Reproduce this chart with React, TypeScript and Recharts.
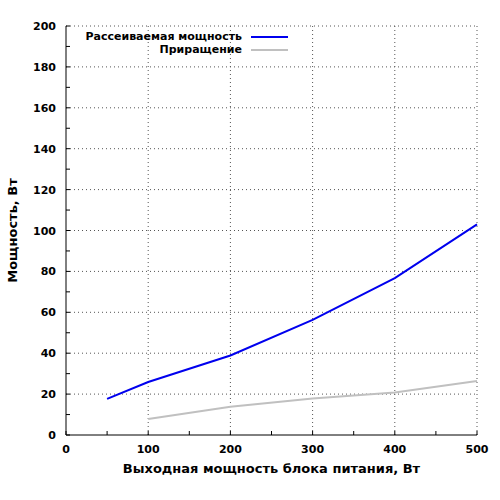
import React from 'react';
import { LineChart, Line, XAxis, YAxis, ReferenceLine, Legend } from 'recharts';

const outputPower = [50, 100, 200, 300, 400, 500];
const dissipated = [17.7, 25.9, 38.9, 56.3, 76.7, 103];
const increment = [null, 7.8, 13.8, 17.8, 20.8, 26.4];

const xTicks = [0, 50, 100, 150, 200, 250, 300, 350, 400, 450, 500];
const yTicks = [0, 10, 20, 30, 40, 50, 60, 70, 80, 90, 100, 110, 120, 130, 140, 150, 160, 170, 180, 190, 200];
const xGrid = [100, 200, 300, 400, 500];
const yGrid = [20, 40, 60, 80, 100, 120, 140, 160, 180, 200];

const data = outputPower.map((x, i) => ({ x, power: dissipated[i], inc: increment[i] }));

const font = '"DejaVu Sans", Verdana, sans-serif';

const XTick = ({ x, y, payload }: any) => (
  <g>
    <line x1={x} y1={y} x2={x} y2={y - 4} stroke="#000" />
    {payload.value % 100 === 0 && (
      <text x={x} y={y + 18} textAnchor="middle" fontSize={11} fontWeight="bold" fontFamily={font} fill="#000">
        {payload.value}
      </text>
    )}
  </g>
);

const YTick = ({ x, y, payload }: any) => (
  <g>
    <line x1={x} y1={y} x2={x + 4} y2={y} stroke="#000" />
    {payload.value % 20 === 0 && (
      <text x={x - 10} y={y + 4} textAnchor="end" fontSize={11} fontWeight="bold" fontFamily={font} fill="#000">
        {payload.value}
      </text>
    )}
  </g>
);

const legendItems = [
  { name: 'Рассеиваемая мощность', color: '#0000ee' },
  { name: 'Приращение', color: '#c0c0c0' },
];

const LegendBox = () => (
  <div style={{ fontFamily: font, fontSize: 11, fontWeight: 'bold' }}>
    {legendItems.map((it) => (
      <div key={it.name} style={{ display: 'flex', alignItems: 'center', justifyContent: 'flex-end', height: 13 }}>
        <span>{it.name}</span>
        <svg width={46} height={13}>
          <line x1={9} y1={7} x2={46} y2={7} stroke={it.color} strokeWidth={2} />
        </svg>
      </div>
    ))}
  </div>
);

export default function App() {
  return (
    <div style={{ position: 'absolute', left: 0, top: 0, width: 500, height: 500, background: '#fff' }}>
      <LineChart width={500} height={500} data={data} margin={{ top: 26, right: 23, bottom: 25, left: 6 }}>
        {xGrid.map((v) => (
          <ReferenceLine key={'x' + v} x={v} stroke="#555" strokeDasharray="1 3" />
        ))}
        {yGrid.map((v) => (
          <ReferenceLine key={'y' + v} y={v} stroke="#555" strokeDasharray="1 3" />
        ))}
        <XAxis
          type="number"
          dataKey="x"
          domain={[0, 500]}
          ticks={xTicks}
          height={40}
          tickSize={0}
          tickMargin={0}
          tickLine={false}
          axisLine={{ stroke: '#000' }}
          tick={<XTick />}
          interval={0}
          label={{
            content: ({ viewBox }: any) => (
              <text
                x={viewBox.x + viewBox.width / 2}
                y={viewBox.y + 38}
                textAnchor="middle"
                fontSize={13}
                fontWeight="bold"
                fontFamily={font}
                fill="#000"
              >
                Выходная мощность блока питания, Вт
              </text>
            ),
          }}
        />
        <YAxis
          type="number"
          domain={[0, 200]}
          ticks={yTicks}
          width={60}
          tickSize={0}
          tickMargin={0}
          tickLine={false}
          axisLine={{ stroke: '#000' }}
          tick={<YTick />}
          interval={0}
          label={{
            content: ({ viewBox }: any) => {
              const cx = 17;
              const cy = viewBox.y + viewBox.height / 2;
              return (
                <text
                  x={cx}
                  y={cy}
                  transform={`rotate(-90, ${cx}, ${cy})`}
                  textAnchor="middle"
                  fontSize={13}
                  fontWeight="bold"
                  fontFamily={font}
                  fill="#000"
                >
                  Мощность, Вт
                </text>
              );
            },
          }}
        />
        <Legend
          content={<LegendBox />}
          layout="vertical"
          verticalAlign="middle"
          align="center"
          wrapperStyle={{ position: 'absolute', top: 30, left: 60, width: 228 }}
        />
        <Line type="linear" dataKey="power" stroke="#0000ee" strokeWidth={2} dot={false} isAnimationActive={false} />
        <Line type="linear" dataKey="inc" stroke="#c0c0c0" strokeWidth={2} dot={false} isAnimationActive={false} />
      </LineChart>
    </div>
  );
}
